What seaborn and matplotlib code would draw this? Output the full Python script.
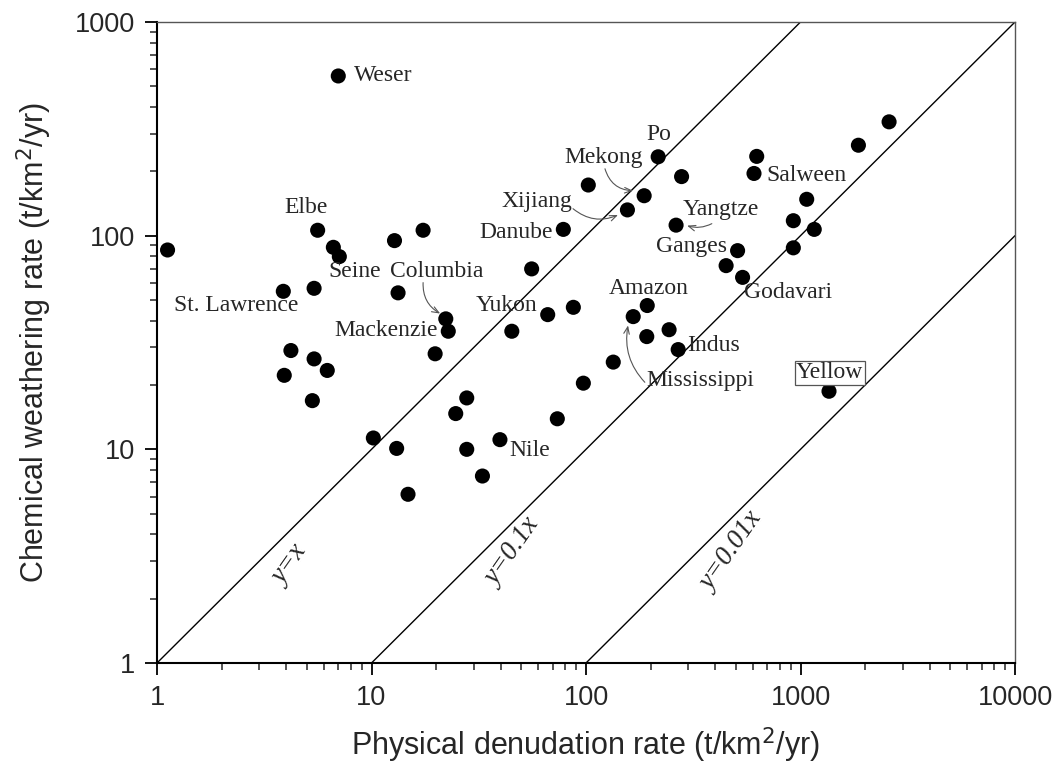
import numpy as np
import pandas as pd
import matplotlib
matplotlib.use("Agg")
import matplotlib.pyplot as plt
import seaborn as sns
from matplotlib.ticker import FixedLocator, FuncFormatter, NullFormatter

# ---------------- data ----------------
phys = [1.12, 7.0, 5.61, 6.64, 7.08, 12.8, 17.4, 3.88, 5.40, 13.3,
        22.2, 22.8, 19.8, 4.21, 5.40, 6.22, 3.92, 5.30, 10.2, 13.1,
        14.8, 27.8, 24.7, 27.8, 32.9, 39.7, 45.1, 55.8, 66.3, 87.3,
        78.4, 102.5, 73.5, 97.2, 134, 166, 193, 192, 244, 269,
        156, 186.7, 217, 279, 263, 509, 450, 537, 625, 607,
        1069, 926, 1159, 926, 1862, 2588, 1358]
chem = [85.7, 559, 106, 88.2, 79.8, 94.8, 106, 54.9, 56.7, 54.0,
        40.8, 35.7, 28.0, 29.0, 26.5, 23.4, 22.2, 16.9, 11.3, 10.1,
        6.16, 17.4, 14.7, 10.0, 7.5, 11.1, 35.7, 69.9, 42.7, 46.2,
        107, 172.6, 13.9, 20.4, 25.6, 41.8, 47.1, 33.7, 36.3, 29.3,
        132, 153.8, 234, 189, 112, 85.1, 72.4, 63.8, 235, 195.5,
        148, 117.5, 107, 87.7, 265, 341, 18.7]

label_names = ["Weser", "Elbe", "Seine", "Columbia", "St. Lawrence", "Mackenzie",
               "Yukon", "Danube", "Xijiang", "Mekong", "Po", "Salween", "Yangtze",
               "Ganges", "Godavari", "Amazon", "Indus", "Mississippi", "Nile", "Yellow"]
label_x = [8.3, 4.95, 8.38, 20.1, 2.33, 20.4, 42.4, 70.2, 58.9, 121, 219, 691,
           426, 312, 875, 196, 295, 340, 54.8, 1368]
label_y = [559, 135, 67.9, 67.9, 47.1, 36.0, 47.1, 103.6, 144.6, 232, 298, 192,
           132, 89.1, 54.0, 56.7, 30.6, 21.0, 9.9, 22.8]
label_ha = ["left", "center", "center", "center", "center", "right", "center",
            "right", "center", "center", "center", "left", "center", "center",
            "center", "center", "left", "center", "center", "center"]

line_coefs = [1.0, 0.1, 0.01]
line_texts = ["y=x", "y=0.1x", "y=0.01x"]
line_text_x = [4.17, 45.7, 480]
line_text_y = [2.87, 3.30, 3.30]

arrow_from_x = [17.4, 122.6, 87.0, 386, 188]
arrow_from_y = [60.3, 205.6, 133.7, 113.8, 20.6]
arrow_to_x = [20.9, 165.6, 141, 296, 157]
arrow_to_y = [43.2, 162.3, 125, 111.4, 38.0]
arrow_rad = [0.3, 0.35, 0.3, -0.2, -0.25]

x_ticks = [1, 10, 100, 1000, 10000]
y_ticks = [1, 10, 100, 1000]

df = pd.DataFrame({"phys": phys, "chem": chem})

# ---------------- figure ----------------
sns.set_style("ticks")
plt.rcParams["font.family"] = ["Liberation Sans", "DejaVu Sans"]

fig = plt.figure(figsize=(10.6, 7.66), dpi=100)
ax = fig.add_axes([157 / 1060, 1 - 663 / 766, (1015 - 157) / 1060, (663 - 22) / 766])
ax.set_xscale("log")
ax.set_yscale("log")
ax.set_xlim(1, 10000)
ax.set_ylim(1, 1000)

# reference lines
xs = np.array([1.0, 10000.0])
for c in line_coefs:
    ax.plot(xs, c * xs, color="black", lw=1.0, zorder=1)

sns.scatterplot(data=df, x="phys", y="chem", ax=ax, s=118, color="black",
                edgecolor="none", zorder=3, legend=False)

serif = ["Liberation Serif", "DejaVu Serif"]
for name, lx, ly, ha in zip(label_names, label_x, label_y, label_ha):
    kw = {}
    if name == "Yellow":
        kw["bbox"] = dict(boxstyle="square,pad=0.06", fc="white", ec="#555555", lw=0.9)
    ax.text(lx, ly, name, ha=ha, va="center", fontsize=17, family=serif, zorder=4, **kw)

for t, tx, ty in zip(line_texts, line_text_x, line_text_y):
    ax.text(tx, ty, t, ha="center", va="center", rotation=55, fontsize=19.5,
            family=serif, style="italic", zorder=4)

for fx, fy, tx, ty, r in zip(arrow_from_x, arrow_from_y, arrow_to_x, arrow_to_y, arrow_rad):
    ax.annotate("", xy=(tx, ty), xytext=(fx, fy),
                arrowprops=dict(arrowstyle="->,head_length=0.5,head_width=0.2",
                                color="#555555", lw=0.8, shrinkA=0, shrinkB=0,
                                connectionstyle=f"arc3,rad={r}"), zorder=4)

# axes styling
ax.xaxis.set_major_locator(FixedLocator(x_ticks))
ax.yaxis.set_major_locator(FixedLocator(y_ticks))
fmt = FuncFormatter(lambda v, p: f"{int(round(v))}")
ax.xaxis.set_major_formatter(fmt)
ax.yaxis.set_major_formatter(fmt)
ax.xaxis.set_minor_formatter(NullFormatter())
ax.yaxis.set_minor_formatter(NullFormatter())
ax.tick_params(which="major", direction="out", length=8.5, width=1.3, labelsize=19.5,
               pad=7, top=False, right=False, color="black")
ax.tick_params(which="minor", direction="out", length=5, width=1.1, top=False, right=False)

for side in ["left", "bottom"]:
    ax.spines[side].set_linewidth(1.5)
    ax.spines[side].set_color("black")
for side in ["top", "right"]:
    ax.spines[side].set_linewidth(1.0)
    ax.spines[side].set_color("#555555")

ax.set_xlabel("Physical denudation rate (t/km$^2$/yr)", fontsize=22)
ax.set_ylabel("Chemical weathering rate (t/km$^2$/yr)", fontsize=22)
ax.xaxis.set_label_coords(0.5, -0.098)
ax.yaxis.set_label_coords(-0.12, 0.5)

fig.savefig("out.png", dpi=100, facecolor="white")
